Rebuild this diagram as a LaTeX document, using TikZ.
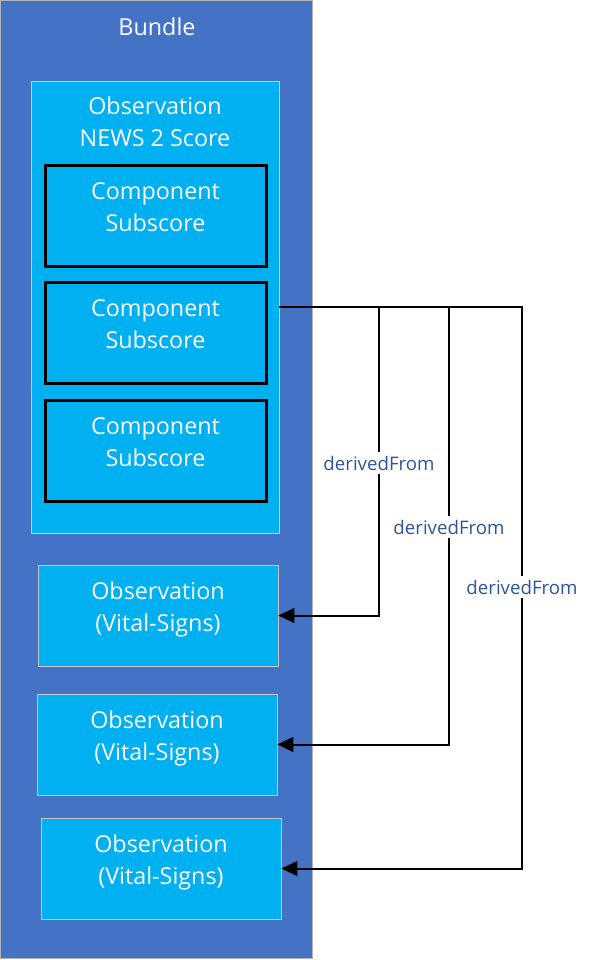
\documentclass[tikz,border=0pt]{standalone}
\usepackage{fontspec}
\setmainfont{Open Sans}
\usetikzlibrary{arrows.meta,calc}
\definecolor{bundleblue}{HTML}{4472C4}
\definecolor{obsblue}{HTML}{00B0F0}
\definecolor{linkblue}{HTML}{2F5597}
\begin{document}
\begin{tikzpicture}[x=0.75pt, y=-0.75pt,
  every node/.style={font=\fontsize{17.5}{24}\selectfont, text=white, align=center, inner sep=0pt},
  obs/.style={rectangle, draw=gray!45, fill=obsblue, minimum width=180pt, minimum height=75.75pt,
    label={[yshift=4.5pt]center:{#1}}},
  comp/.style={rectangle, draw=black, line width=2.25pt, fill=obsblue, minimum width=165.75pt, minimum height=75.75pt,
    label={[yshift=6pt]center:{#1}}},
  link/.style={draw=black, line width=1.5pt, -{Triangle[length=12pt,width=11pt]}},
  lbl/.style={fill=white, text=linkblue, font=\fontsize{14}{16}\selectfont, inner sep=2.5pt}]
  \useasboundingbox (0,0) rectangle (589,960);
  % Bundle
  \node[rectangle, draw=gray!60, fill=bundleblue, minimum width=234pt, minimum height=718.5pt] (bundle) at (156,479) {};
  \node (bundlelbl) at (157,27) {Bundle};
  % NEWS 2 observation with its components
  \node[rectangle, draw=gray!40, fill=obsblue, minimum width=186pt, minimum height=339pt] (news) at (155,307) {};
  \node (newslbl) at (155,122) {Observation\\NEWS 2 Score};
  \foreach \i/\y in {1/215.5, 2/332.5, 3/450.5} {
    \node[comp={Component\\Subscore}] (c\i) at (155.5,\y) {};
  }
  % Vital-Signs observations
  \foreach \i/\x/\y in {1/158/615.5, 2/157/744.5, 3/161/868.5} {
    \node[obs={Observation\\(Vital-Signs)}] (v\i) at (\x,\y) {};
  }
  % derivedFrom links
  \foreach \i/\dx in {1/101, 2/172, 3/241} {
    \draw[link] (news.east) -| ($(v\i.east)+(\dx,0)$) -- (v\i.east);
  }
  \foreach \i/\x/\y in {1/379/463, 2/449/527, 3/522/587} {
    \node[lbl] (df\i) at (\x,\y) {derivedFrom};
  }
\end{tikzpicture}
\end{document}
